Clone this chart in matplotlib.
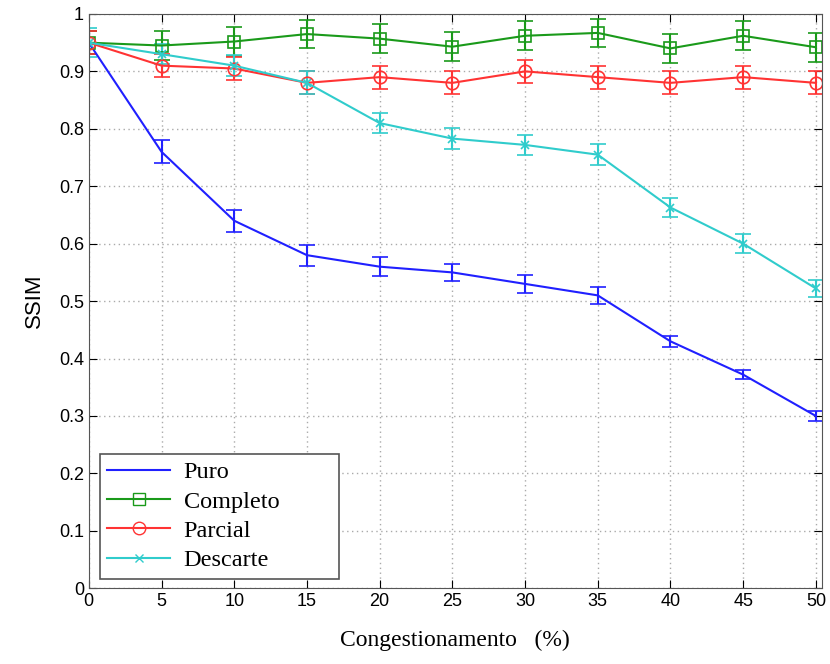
import matplotlib
matplotlib.use("Agg")
import matplotlib.pyplot as plt
from matplotlib.lines import Line2D

x = [0, 5, 10, 15, 20, 25, 30, 35, 40, 45, 50]
puro = [0.95, 0.76, 0.64, 0.58, 0.56, 0.55, 0.53, 0.51, 0.43, 0.372, 0.30]
puro_err = [0.02, 0.02, 0.019, 0.018, 0.017, 0.015, 0.016, 0.015, 0.01, 0.008, 0.008]
completo = [0.95, 0.945, 0.952, 0.965, 0.957, 0.943, 0.962, 0.967, 0.94, 0.962, 0.942]
completo_err = [0.02, 0.025, 0.025, 0.025, 0.025, 0.025, 0.025, 0.025, 0.025, 0.025, 0.025]
parcial = [0.95, 0.91, 0.905, 0.88, 0.89, 0.88, 0.90, 0.89, 0.88, 0.89, 0.88]
parcial_err = [0.02, 0.02, 0.02, 0.02, 0.02, 0.02, 0.02, 0.02, 0.02, 0.02, 0.02]
descarte = [0.95, 0.93, 0.91, 0.88, 0.81, 0.783, 0.772, 0.755, 0.663, 0.60, 0.522]
descarte_err = [0.025, 0.018, 0.018, 0.02, 0.018, 0.018, 0.017, 0.018, 0.017, 0.017, 0.015]

labels = ["Puro", "Completo", "Parcial", "Descarte"]
colors = ["#2020ff", "#1a9a1a", "#ff3333", "#30cccc"]
markers = [None, "s", "o", "x"]
msizes = [0, 9, 9, 6]

fig = plt.figure(figsize=(8.3, 6.64), dpi=100)
ax = fig.add_axes([0.107, 0.114, 0.883, 0.865])

series = [(puro, puro_err), (completo, completo_err), (parcial, parcial_err), (descarte, descarte_err)]
handles = []
for (y, e), lab, c, m, ms in zip(series, labels, colors, markers, msizes):
    ax.errorbar(x, y, yerr=e, color=c, marker=m, markersize=ms,
                markerfacecolor="none", markeredgecolor=c, markeredgewidth=1.2,
                linewidth=1.5, elinewidth=1.5, capsize=6, capthick=1.5)
    handles.append(Line2D([], [], color=c, marker=m, markersize=ms,
                          markerfacecolor="none", markeredgecolor=c,
                          markeredgewidth=1.0, linewidth=1.5, label=lab))

ax.set_xlim(0, 50.4)
ax.set_ylim(0, 1)
ax.set_xticks(range(0, 51, 5))
ax.set_yticks([i / 10 for i in range(11)])
ax.set_yticklabels(["0", "0.1", "0.2", "0.3", "0.4", "0.5", "0.6", "0.7", "0.8", "0.9", "1"])
ax.grid(True, linestyle=(0, (1, 2.5)), color="#aaaaaa", linewidth=1)
ax.tick_params(direction="in", labelsize=13, length=6, top=True, right=True,
               labeltop=False, labelright=False)
for lbl in ax.get_xticklabels() + ax.get_yticklabels():
    lbl.set_fontfamily("Liberation Sans")
for s in ax.spines.values():
    s.set_color("#555555")

ax.set_xlabel("Congestionamento   (%)", fontsize=17, family="Liberation Serif", labelpad=14)
ax.set_ylabel("SSIM", fontsize=16, family="Liberation Sans", labelpad=10)

leg = ax.legend(handles=handles, loc="lower left",
                bbox_to_anchor=(0.015, 0.017, 0.327, 0.222), mode="expand",
                prop={"family": "Liberation Serif", "size": 17.5}, fancybox=False,
                edgecolor="#555555", framealpha=1, handlelength=2.6, handletextpad=0.55,
                borderpad=0.3, labelspacing=0.3, borderaxespad=0.0)
leg.get_frame().set_linewidth(1.2)

fig.savefig("out.png", dpi=100)
